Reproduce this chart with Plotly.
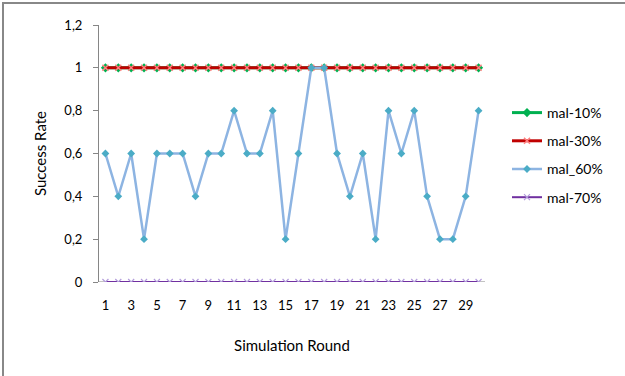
import plotly.graph_objects as go

rounds = list(range(1, 31))
mal_10 = [1] * 30
mal_30 = [1] * 30
mal_60 = [0.6, 0.4, 0.6, 0.2, 0.6, 0.6, 0.6, 0.4, 0.6, 0.6,
          0.8, 0.6, 0.6, 0.8, 0.2, 0.6, 1.0, 1.0, 0.6, 0.4,
          0.6, 0.2, 0.8, 0.6, 0.8, 0.4, 0.2, 0.2, 0.4, 0.8]
mal_70 = [0] * 30
y_ticks = [0, 0.2, 0.4, 0.6, 0.8, 1, 1.2]
y_tick_text = ["0", "0,2", "0,4", "0,6", "0,8", "1", "1,2"]
x_ticks = list(range(1, 30, 2))

FONT = "Lato"
L, R, T, B = 99, 485, 25, 282
W, H = 625, 376

fig = go.Figure()
fig.add_trace(go.Scatter(x=rounds, y=mal_10, name="mal-10%", mode="lines+markers",
                         line=dict(color="#00B050", width=3),
                         marker=dict(symbol="diamond", size=7, color="#00B050"),
                         legendgroup="a"))
fig.add_trace(go.Scatter(x=rounds, y=mal_30, name="mal-30%", mode="lines+markers",
                         line=dict(color="#C00000", width=3),
                         marker=dict(symbol="x-thin", size=6, color="#FF8080",
                                     line=dict(color="#FF8080", width=1.5)),
                         legendgroup="b"))
fig.add_trace(go.Scatter(x=rounds, y=mal_60, name="mal_60%", mode="lines+markers",
                         line=dict(color="#8DB4E2", width=2.5),
                         marker=dict(symbol="diamond", size=6, color="#4BACC6"),
                         legendgroup="c"))
fig.add_trace(go.Scatter(x=rounds, y=mal_70, name="mal-70%", mode="lines+markers",
                         line=dict(color="#7030A0", width=2),
                         marker=dict(symbol="x-thin", size=6, color="#B39DDB",
                                     line=dict(color="#B39DDB", width=1.2)),
                         legendgroup="d"))

pw, ph = R - L, B - T
def px(x):
    return (x - L) / pw
def py(y):
    return (B - y) / ph

fig.update_layout(
    width=W, height=H,
    margin=dict(l=L, r=W - R, t=T, b=H - B),
    paper_bgcolor="white", plot_bgcolor="white",
    font=dict(family=FONT, size=13, color="black"),
    showlegend=True,
    legend=dict(x=px(507), y=py(97), xanchor="left", yanchor="top",
                traceorder="grouped", tracegroupgap=7,
                font=dict(family=FONT, size=14, color="black"),
                bgcolor="rgba(0,0,0,0)", itemwidth=30),
    xaxis=dict(range=[0.5, 30.5], tickvals=x_ticks, showgrid=False, zeroline=False,
               showline=False, ticks="", ticklabelstandoff=14,
               tickfont=dict(family=FONT, size=13),
               title=dict(text="Simulation Round", font=dict(family=FONT, size=15), standoff=28)),
    yaxis=dict(range=[0, 1.2], tickvals=y_ticks, ticktext=y_tick_text, showgrid=False,
               zeroline=False, showline=True, linecolor="#868686", linewidth=1,
               ticks="outside", ticklen=5, tickcolor="#868686", ticklabelstandoff=8,
               tickfont=dict(family=FONT, size=13),
               title=dict(text="Success Rate", font=dict(family=FONT, size=15), standoff=14)),
    shapes=[
        dict(type="line", xref="paper", yref="y", x0=0, x1=1, y0=0, y1=0,
             line=dict(color="#868686", width=1), layer="below"),
        dict(type="rect", xref="paper", yref="paper", x0=px(3), x1=px(640),
             y0=py(390), y1=py(3), line=dict(color="#888888", width=2),
             fillcolor="rgba(0,0,0,0)"),
    ],
)

fig.write_html("out.html", config={"displayModeBar": False},
               post_script="document.body.style.margin='0';")
